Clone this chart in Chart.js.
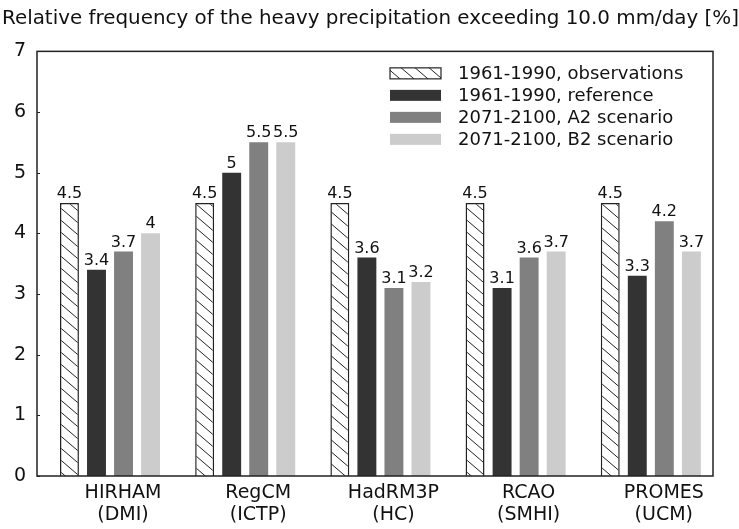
<!DOCTYPE html>
<html>
<head>
<meta charset="utf-8">
<style>
  html, body { margin: 0; padding: 0; background: #fff; }
  #wrap { width: 739px; height: 529px; }
</style>
<script src="https://cdn.jsdelivr.net/npm/chart.js@4.4.1/dist/chart.umd.min.js"></script>
</head>
<body>
<div id="wrap"><canvas id="chart" width="739" height="529"></canvas></div>
<script>
// Regional climate models and their institutes
const models = ['HIRHAM', 'RegCM', 'HadRM3P', 'RCAO', 'PROMES'];
const institutes = ['(DMI)', '(ICTP)', '(HC)', '(SMHI)', '(UCM)'];

// Relative frequency [%] of days with precipitation above 10.0 mm/day
const observations = [4.5, 4.5, 4.5, 4.5, 4.5];
const reference = [3.4, 5, 3.6, 3.1, 3.3];
const scenarioA2 = [3.7, 5.5, 3.1, 3.6, 4.2];
const scenarioB2 = [4, 5.5, 3.2, 3.7, 3.7];

const seriesNames = [
  '1961-1990, observations',
  '1961-1990, reference',
  '2071-2100, A2 scenario',
  '2071-2100, B2 scenario'
];
const yTicks = [0, 1, 2, 3, 4, 5, 6, 7];
const titleText = 'Relative frequency of the heavy precipitation exceeding 10.0 mm/day [%]';

const FONT = 'DejaVu Sans';
const INK = '#111';

// Diagonal hatching used for the observed series
function makeHatch() {
  const tile = document.createElement('canvas');
  tile.width = 14; tile.height = 12;
  const g = tile.getContext('2d');
  g.fillStyle = '#fff';
  g.fillRect(0, 0, 14, 12);
  g.strokeStyle = '#222';
  g.lineWidth = 1;
  for (const dy of [-12, 0, 12]) {
    g.beginPath();
    g.moveTo(0, dy);
    g.lineTo(14, dy + 12);
    g.stroke();
  }
  return g.createPattern(tile, 'repeat');
}

const canvas = document.getElementById('chart');
const ctx = canvas.getContext('2d');
const hatch = makeHatch();

// Value labels, plot frame, inner y ticks and the in-plot legend
const decor = {
  id: 'decor',
  afterDatasetsDraw(chart) {
    const c = chart.ctx;
    const a = chart.chartArea;
    const y = chart.scales.y;
    c.save();

    c.font = '16px "' + FONT + '"';
    c.fillStyle = INK;
    c.textAlign = 'center';
    c.textBaseline = 'alphabetic';
    chart.data.datasets.forEach((ds, di) => {
      chart.getDatasetMeta(di).data.forEach((bar, i) => {
        c.fillText(String(ds.data[i]), bar.x, bar.y - 5);
      });
    });

    c.strokeStyle = '#222';
    c.lineWidth = 1.5;
    c.strokeRect(a.left, a.top, a.right - a.left, a.bottom - a.top);

    c.lineWidth = 1;
    y.ticks.forEach(t => {
      const py = Math.round(y.getPixelForValue(t.value)) + 0.5;
      c.beginPath();
      c.moveTo(a.left, py);
      c.lineTo(a.left + 3, py);
      c.stroke();
    });

    const sx = a.right - 323;
    const sw = 51, sh = 11;
    c.font = '18px "' + FONT + '"';
    c.textAlign = 'left';
    c.textBaseline = 'middle';
    chart.data.datasets.forEach((ds, i) => {
      const cy = a.top + 22 + i * 22;
      c.fillStyle = ds.backgroundColor;
      c.fillRect(sx, cy - sh / 2, sw, sh);
      if (ds.borderWidth) {
        c.strokeStyle = ds.borderColor;
        c.lineWidth = 1.2;
        c.strokeRect(sx, cy - sh / 2, sw, sh);
      }
      c.fillStyle = INK;
      c.fillText(ds.label, sx + 68, cy + 1);
    });

    c.restore();
  }
};

new Chart(ctx, {
  type: 'bar',
  data: {
    labels: models.map((_, i) => i),
    datasets: [
      { label: seriesNames[0], data: observations, backgroundColor: hatch, borderColor: '#222', borderWidth: 1.5 },
      { label: seriesNames[1], data: reference, backgroundColor: '#333333', borderWidth: 0 },
      { label: seriesNames[2], data: scenarioA2, backgroundColor: '#808080', borderWidth: 0 },
      { label: seriesNames[3], data: scenarioB2, backgroundColor: '#cccccc', borderWidth: 0 }
    ]
  },
  options: {
    responsive: false,
    animation: false,
    devicePixelRatio: 1,
    layout: { padding: { left: 2, right: 0, top: 0, bottom: 0 } },
    datasets: { bar: { categoryPercentage: 0.8, barPercentage: 0.7 } },
    plugins: {
      legend: { display: false },
      tooltip: { enabled: false },
      title: {
        display: true,
        text: titleText,
        align: 'start',
        color: INK,
        font: { family: FONT, size: 20.3, weight: 'normal', lineHeight: 1.2 },
        padding: { top: 7, bottom: 20 }
      }
    },
    scales: {
      x: {
        type: 'linear',
        bounds: 'data',
        offset: false,
        min: -0.54,
        max: 4.46,
        grid: { display: false, drawTicks: false, offset: false },
        border: { display: false },
        afterBuildTicks: s => { s.ticks = models.map((_, i) => ({ value: i })); },
        afterFit: s => { s.height = 53; },
        ticks: {
          padding: 6,
          labelOffset: 13,
          maxRotation: 0,
          autoSkip: false,
          color: INK,
          font: { family: FONT, size: 19, lineHeight: 1.15 },
          callback: v => [models[v], institutes[v]]
        }
      },
      y: {
        min: yTicks[0],
        max: yTicks[yTicks.length - 1],
        grid: { display: false, drawTicks: false },
        border: { display: false },
        afterBuildTicks: s => { s.ticks = yTicks.map(v => ({ value: v })); },
        afterFit: s => { s.width = 35; },
        ticks: {
          padding: 11,
          color: INK,
          font: { family: FONT, size: 19 }
        }
      },
      // blank margin on the right of the plot frame
      yRight: {
        position: 'right',
        min: yTicks[0],
        max: yTicks[yTicks.length - 1],
        grid: { display: false, drawTicks: false },
        border: { display: false },
        ticks: { display: false },
        afterFit: s => { s.width = 26; }
      }
    }
  },
  plugins: [decor]
});
</script>
</body>
</html>
